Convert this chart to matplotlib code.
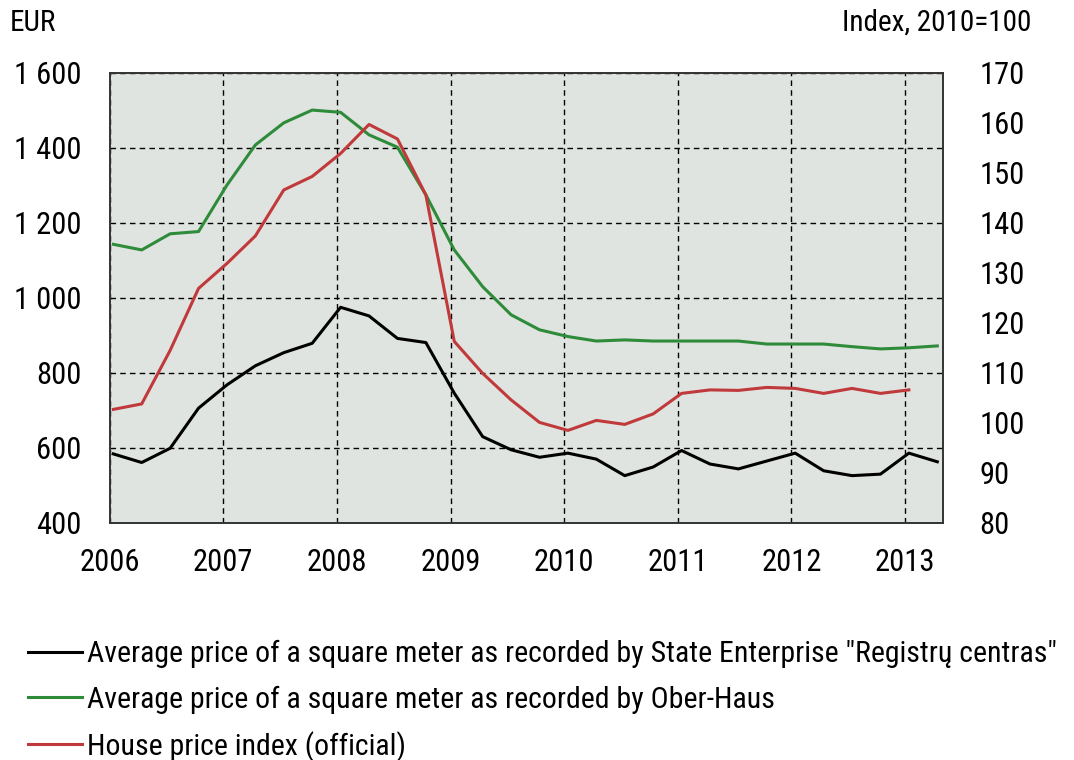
import numpy as np
import matplotlib.pyplot as plt
from matplotlib.ticker import FuncFormatter

plt.rcParams['font.family'] = ['Roboto Condensed', 'DejaVu Sans']

# quarterly data, 2006Q1 .. 2013Q2
registru = [584, 561, 599, 706, 768, 819, 854, 879, 975, 952, 892, 881, 746, 630, 595, 575,
            586, 570, 526, 549, 593, 557, 544, 565, 586, 539, 526, 530, 586, 563]
oberhaus = [1143, 1128, 1171, 1177, 1301, 1408, 1467, 1501, 1495, 1435, 1402, 1275, 1128, 1030, 955, 915,
            897, 885, 888, 885, 885, 885, 885, 877, 877, 877, 870, 864, 867, 872]
# 2006Q1 .. 2013Q1
hpi = [102.7, 103.8, 114.5, 126.9, 131.9, 137.4, 146.6, 149.3, 153.9, 159.7, 156.8, 145.6, 116.3, 109.9, 104.6, 100.1,
       98.5, 100.5, 99.7, 101.8, 105.9, 106.6, 106.5, 107.1, 106.9, 105.9, 106.9, 105.9, 106.6]

years = list(range(2006, 2014))
labels = ['Average price of a square meter as recorded by State Enterprise "Registrų centras"',
          'Average price of a square meter as recorded by Ober-Haus',
          'House price index (official)']

x_eur = 2006 + np.arange(len(registru)) / 4 + 0.033
x_hpi = 2006 + np.arange(len(hpi)) / 4 + 0.033

fig = plt.figure(figsize=(10.74, 7.6), dpi=100)
ax = fig.add_axes([0.102, 0.312, 0.776, 0.592])
ax.set_facecolor('#e0e4e0')
ax2 = ax.twinx()

l1, = ax.plot(x_eur, registru, color='black', lw=2.2)
l2, = ax.plot(x_eur, oberhaus, color='#2e8b3a', lw=2.2)
l3, = ax2.plot(x_hpi, hpi, color='#c0393b', lw=2.2)

ax.set_xlim(2006, 2013.333)
ax.set_ylim(400, 1600)
ax2.set_ylim(80, 170)
ax.set_xticks(years)
ax.set_yticks(range(400, 1601, 200))
ax2.set_yticks(range(80, 171, 10))
ax.yaxis.set_major_formatter(FuncFormatter(lambda v, p: f"{int(v):,}".replace(",", " ")))

ax.grid(True, color='black', ls=(0, (4, 3)), lw=1)
for a in (ax, ax2):
    for s in a.spines.values():
        s.set_color('#333333')
        s.set_linewidth(1.2)
ax.tick_params(axis='both', length=0, labelsize=22)
ax.tick_params(axis='y', pad=20)
ax.tick_params(axis='x', pad=18)
ax2.tick_params(axis='y', length=0, labelsize=22, pad=26)

fig.text(0.009, 0.97, 'EUR', fontsize=21, va='center', ha='left')
fig.text(0.96, 0.97, 'Index, 2010=100', fontsize=21, va='center', ha='right')

fig.legend([l1, l2, l3], labels, loc='upper left', bbox_to_anchor=(0.026, 0.158),
           frameon=False, fontsize=21.5, handlelength=1.8, handletextpad=0.17,
           labelspacing=0.58, borderaxespad=0, borderpad=0)

plt.savefig('out.png', dpi=100)
